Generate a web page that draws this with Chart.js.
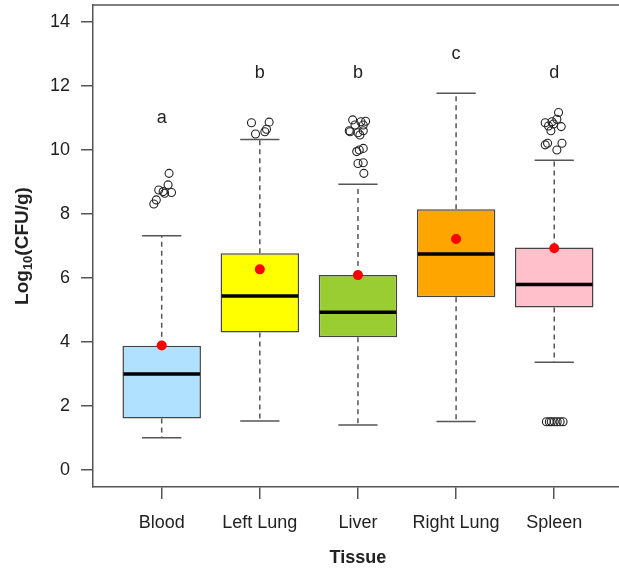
<!DOCTYPE html>
<html>
<head>
<meta charset="utf-8">
<script src="https://cdn.jsdelivr.net/npm/chart.js@4.4.1/dist/chart.umd.min.js"></script>
<style>
  html,body{margin:0;padding:0;background:#fff;overflow:hidden}
  #wrap{width:619px;height:571px}
</style>
</head>
<body>
<div id="wrap"><canvas id="chart" width="619" height="571"></canvas></div>
<script>
// DATA
const tissues = ['Blood','Left Lung','Liver','Right Lung','Spleen'];
const q1 = [1.61, 4.30, 4.15, 5.40, 5.08];
const median = [3.00, 5.44, 4.93, 6.75, 5.80];
const q3 = [3.88, 6.77, 6.09, 8.15, 6.95];
const whiskerLo = [1.01, 1.53, 1.41, 1.52, 3.37];
const whiskerHi = [7.32, 10.33, 8.93, 11.77, 9.68];
const means = [3.89, 6.27, 6.09, 7.22, 6.93];
const letters = ['a','b','b','c','d'];
const letterY = [11.0, 12.4, 12.4, 13.0, 12.4];
const yTicks = [0,2,4,6,8,10,12,14];
// outliers per tissue: [jitter, value]
const outBlood = [[-0.08,8.31],[-0.055,8.44],[-0.03,8.75],[0.015,8.70],[0.065,8.91],[0.10,8.67],[0.075,9.27],[0.03,8.65]];
const outLeftLung = [[-0.085,10.85],[0.095,10.87],[-0.044,10.50],[0.051,10.57],[0.068,10.65]];
const outLiver = [[-0.054,10.94],[0.03,10.88],[-0.089,10.60],[-0.03,10.78],[0.054,10.60],[0,10.54],[0.054,10.78],[-0.08,10.57],
                  [0.02,10.47],[0.013,10.0],[0.054,10.05],[-0.013,9.95],[0,9.58],[0.054,9.60],[0.06,9.27],[0.078,10.9]];
const outRightLung = [];
const outSpleen = [[0.044,11.17],[-0.092,10.85],[-0.023,10.88],[0.027,10.96],[-0.058,10.75],[0.071,10.73],[-0.007,10.81],[-0.034,10.60],
                   [-0.092,10.16],[-0.068,10.21],[0.079,10.21],[0.027,10.0],
                   [-0.08,1.51],[-0.05,1.51],[-0.03,1.51],[0,1.51],[0.03,1.51],[0.06,1.51],[0.09,1.51]];
const outliers = [outBlood, outLeftLung, outLiver, outRightLung, outSpleen];

// STYLE
const boxColors = ['#B0E2FF','#FFFF00','#9ACD32','#FFA500','#FFC0CB'];
const FONT = 'Liberation Sans, Arial, sans-serif';
const AXIS = '#555';

// BOX PARTS: whiskers, caps, medians drawn right after the boxes
const boxParts = {
  id:'boxParts',
  afterDatasetDraw(chart, args){
    if(args.index !== 2) return;
    const {ctx, scales:{x,y}} = chart;
    const bars = chart.getDatasetMeta(2).data;
    ctx.save();
    tissues.forEach((t,i)=>{
      const cx = x.getPixelForValue(i+1);
      const half = bars[i].width/2;
      const cap = half/2;
      ctx.strokeStyle = AXIS; ctx.lineWidth = 1.5;
      ctx.setLineDash([5,4]);
      ctx.beginPath();
      ctx.moveTo(cx, y.getPixelForValue(q3[i])); ctx.lineTo(cx, y.getPixelForValue(whiskerHi[i]));
      ctx.moveTo(cx, y.getPixelForValue(q1[i])); ctx.lineTo(cx, y.getPixelForValue(whiskerLo[i]));
      ctx.stroke();
      ctx.setLineDash([]);
      ctx.beginPath();
      ctx.moveTo(cx-cap, y.getPixelForValue(whiskerHi[i])); ctx.lineTo(cx+cap, y.getPixelForValue(whiskerHi[i]));
      ctx.moveTo(cx-cap, y.getPixelForValue(whiskerLo[i])); ctx.lineTo(cx+cap, y.getPixelForValue(whiskerLo[i]));
      ctx.stroke();
      ctx.strokeStyle = '#000'; ctx.lineWidth = 3.5;
      ctx.beginPath();
      ctx.moveTo(cx-half+1, y.getPixelForValue(median[i])); ctx.lineTo(cx+half-1, y.getPixelForValue(median[i]));
      ctx.stroke();
    });
    ctx.restore();
  },
  afterDraw(chart){
    const {ctx, chartArea:a, scales:{x,y}} = chart;
    ctx.save();
    // top frame line
    ctx.strokeStyle = AXIS; ctx.lineWidth = 1.5;
    ctx.beginPath(); ctx.moveTo(a.left, a.top); ctx.lineTo(a.right, a.top); ctx.stroke();
    // significance letters
    ctx.fillStyle = '#222'; ctx.font = '18px ' + FONT;
    ctx.textAlign = 'center'; ctx.textBaseline = 'middle';
    letters.forEach((l,i)=> ctx.fillText(l, x.getPixelForValue(i+1), y.getPixelForValue(letterY[i])));
    // x title
    ctx.font = 'bold 18px ' + FONT;
    ctx.fillText('Tissue', x.getPixelForValue(3), 558);
    // y title with subscript
    ctx.translate(21, y.getPixelForValue(7));
    ctx.rotate(-Math.PI/2);
    const big = 'bold 19px ' + FONT, small = 'bold 13px ' + FONT;
    ctx.font = big; const w1 = ctx.measureText('Log').width, w3 = ctx.measureText('(CFU/g)').width;
    ctx.font = small; const w2 = ctx.measureText('10').width;
    let px = -(w1+w2+w3)/2;
    ctx.textAlign = 'left'; ctx.textBaseline = 'alphabetic';
    ctx.font = big; ctx.fillText('Log', px, 7); px += w1;
    ctx.font = small; ctx.fillText('10', px, 11); px += w2;
    ctx.font = big; ctx.fillText('(CFU/g)', px, 7);
    ctx.restore();
  }
};

const ctx = document.getElementById('chart').getContext('2d');
new Chart(ctx,{
  type:'bar',
  data:{datasets:[
    {type:'scatter', label:'Mean', data: means.map((m,i)=>({x:i+1,y:m})),
     pointRadius:5, backgroundColor:'#FF0000', borderWidth:0, order:1},
    {type:'scatter', label:'Outliers', data: outliers.flatMap((g,i)=>g.map(([dx,v])=>({x:i+1+dx,y:v}))),
     pointRadius:4, backgroundColor:'rgba(0,0,0,0)', borderColor:'#222', borderWidth:1.1, order:2},
    {type:'bar', label:'IQR', data: tissues.map((t,i)=>({x:i+1,y:[q1[i],q3[i]]})),
     backgroundColor:boxColors, borderColor:'#444', borderWidth:1.5, borderSkipped:false,
     barPercentage:0.8, categoryPercentage:1, order:3}
  ]},
  options:{
    responsive:false, animation:false, devicePixelRatio:1, events:[],
    layout:{autoPadding:false, padding:{left:0,top:5,right:0,bottom:0}},
    plugins:{legend:{display:false}, tooltip:{enabled:false}},
    scales:{
      x:{type:'linear', min:0.3, max:5.66, offset:false,
         afterBuildTicks: s=>{ s.ticks = tissues.map((t,i)=>({value:i+1})); },
         afterFit: s=>{ s.height = 84; s.paddingLeft = 0; s.paddingRight = 0; },
         ticks:{callback: v=>tissues[v-1], font:{size:18,family:FONT}, color:'#222', padding:13, maxRotation:0, autoSkip:false},
         grid:{offset:false, drawOnChartArea:false, drawTicks:true, tickLength:12, color:AXIS, lineWidth:1.5},
         border:{display:true, color:AXIS, width:1.5}},
      y:{type:'linear', min:-0.53, max:14.53,
         afterBuildTicks: s=>{ s.ticks = yTicks.map(v=>({value:v})); },
         afterFit: s=>{ s.width = 93; s.paddingTop = 0; s.paddingBottom = 0; },
         ticks:{font:{size:18,family:FONT}, color:'#222', padding:11},
         grid:{drawOnChartArea:false, drawTicks:true, tickLength:12, color:AXIS, lineWidth:1.5},
         border:{display:true, color:AXIS, width:1.5}}
    }
  },
  plugins:[boxParts]
});
</script>
</body>
</html>
